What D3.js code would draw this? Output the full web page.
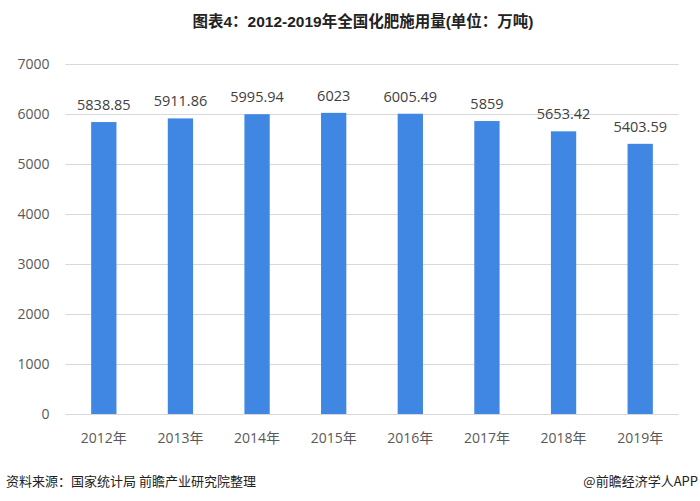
<!DOCTYPE html>
<html><head><meta charset="utf-8">
<script src="https://cdn.jsdelivr.net/npm/d3@7/dist/d3.min.js"></script>
<style>body{margin:0;background:#fff;}svg{display:block;font-family:"Noto Sans CJK SC","Noto Sans",sans-serif;}</style>
</head><body>
<svg id="c" width="700" height="501"></svg>
<script>
const categories = ["2012年","2013年","2014年","2015年","2016年","2017年","2018年","2019年"];
const values = [5838.85,5911.86,5995.94,6023,6005.49,5859,5653.42,5403.59];
const valueLabels = ["5838.85","5911.86","5995.94","6023","6005.49","5859","5653.42","5403.59"];
const yTicks = [0,1000,2000,3000,4000,5000,6000,7000];
const title = "图表4：2012-2019年全国化肥施用量(单位：万吨)";
const source = "资料来源：国家统计局 前瞻产业研究院整理";
const credit = "@前瞻经济学人APP";

const svg = d3.select("#c");
const L = 65.5, R = 678.5, T = 64, B = 414;
const x = d3.scaleBand().domain(categories).range([L, R]).paddingInner(0.67).paddingOuter(0.335);
const y = d3.scaleLinear().domain([0, 7000]).range([B, T]);

svg.append("text").attr("x", 363).attr("y", 27).attr("text-anchor", "middle")
  .attr("font-size", 15.5).attr("font-weight", "bold").attr("fill", "#222")
  .attr("font-family", "'Liberation Sans','Noto Sans CJK SC',sans-serif").text(title);

const yAxis = d3.axisLeft(y).tickValues(yTicks).tickSize(-(R - L)).tickPadding(16).tickFormat(d3.format("d"));
const ga = svg.append("g").attr("transform", `translate(${L},0)`).call(yAxis);
ga.select(".domain").remove();
ga.selectAll(".tick line").attr("stroke", "#d9d9d9").attr("stroke-width", 1);
ga.selectAll(".tick text").attr("fill", "#595959").attr("font-size", 14)
  .attr("font-family", "'Open Sans','Noto Sans',sans-serif");

const xAxis = d3.axisBottom(x).tickSize(0).tickPadding(19);
const gx = svg.append("g").attr("transform", `translate(0,${B})`).call(xAxis);
gx.select(".domain").remove();
gx.selectAll(".tick text").attr("fill", "#595959").attr("font-size", 14)
  .attr("font-family", "'Open Sans','Noto Sans CJK SC',sans-serif");

svg.selectAll("rect.bar").data(values).join("rect").attr("class", "bar")
  .attr("x", (d, i) => x(categories[i])).attr("width", x.bandwidth())
  .attr("y", d => y(d)).attr("height", d => B - y(d)).attr("fill", "#3f87e2");

svg.selectAll("text.vl").data(values).join("text").attr("class", "vl")
  .attr("x", (d, i) => x(categories[i]) + x.bandwidth() / 2).attr("y", d => y(d) - 12)
  .attr("text-anchor", "middle").attr("font-size", 14.5).attr("fill", "#404040")
  .attr("font-family", "'Open Sans','Noto Sans',sans-serif")
  .text((d, i) => valueLabels[i]);

svg.append("text").attr("x", 6).attr("y", 486).attr("font-size", 13).attr("fill", "#222").text(source);
svg.append("text").attr("x", 698).attr("y", 486).attr("text-anchor", "end").attr("font-size", 13).attr("fill", "#222").text(credit);
</script>
</body></html>
